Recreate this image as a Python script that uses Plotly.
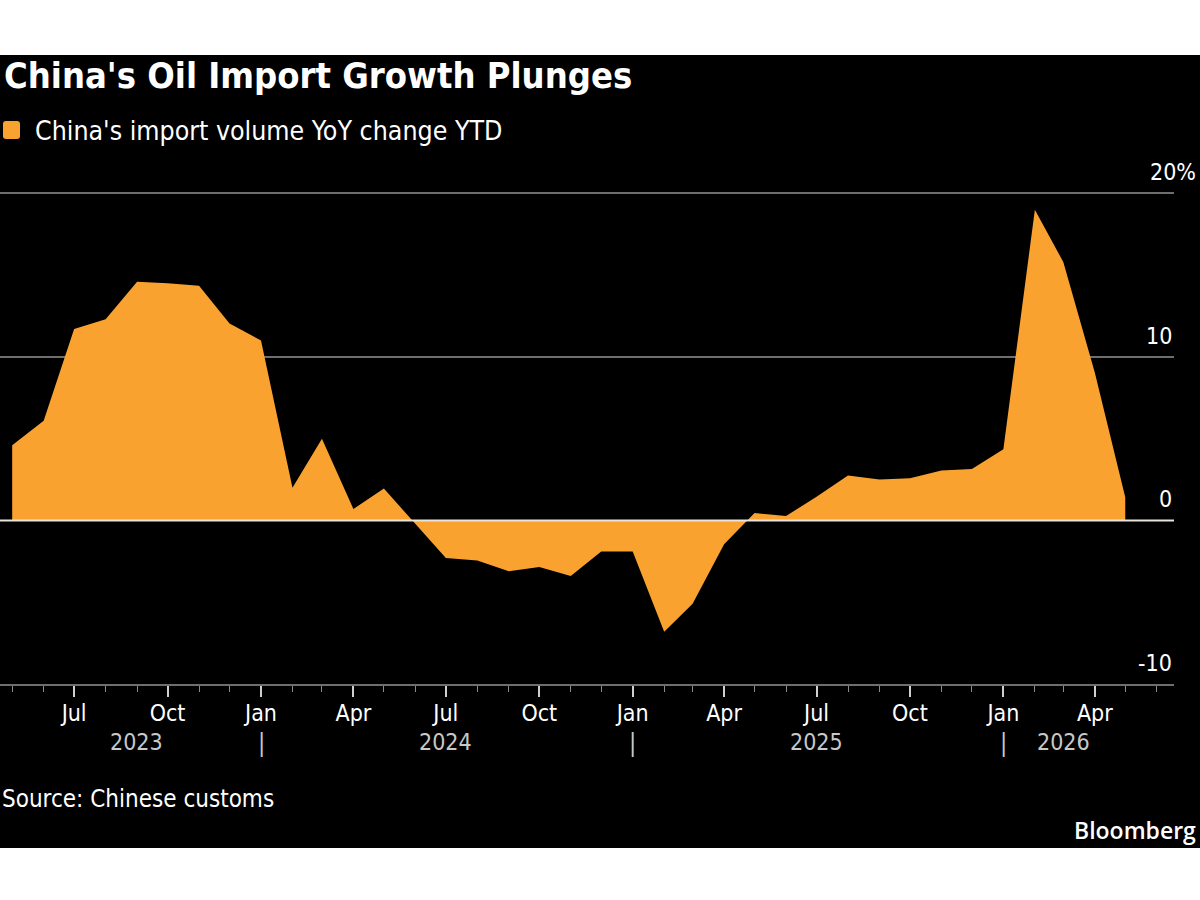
import plotly.graph_objects as go

# ---- data ----
months = [
    "2023-05-01", "2023-06-01", "2023-07-01", "2023-08-01", "2023-09-01", "2023-10-01",
    "2023-11-01", "2023-12-01", "2024-01-01", "2024-02-01", "2024-03-01", "2024-04-01",
    "2024-05-01", "2024-06-01", "2024-07-01", "2024-08-01", "2024-09-01", "2024-10-01",
    "2024-11-01", "2024-12-01", "2025-01-01", "2025-02-01", "2025-03-01", "2025-04-01",
    "2025-05-01", "2025-06-01", "2025-07-01", "2025-08-01", "2025-09-01", "2025-10-01",
    "2025-11-01", "2025-12-01", "2026-01-01", "2026-02-01", "2026-03-01", "2026-04-01",
    "2026-05-01",
]
yoy_change = [
    4.6, 6.1, 11.7, 12.3, 14.6, 14.5,
    14.35, 12.05, 11.0, 2.0, 5.0, 0.7,
    1.95, -0.2, -2.3, -2.45, -3.1, -2.85,
    -3.4, -1.9, -1.9, -6.8, -5.1, -1.45,
    0.45, 0.27, 1.45, 2.75, 2.5, 2.58,
    3.05, 3.15, 4.35, 19.0, 15.8, 9.05,
    1.42,
]
tick_dates = ["2023-07-01", "2023-10-01", "2024-01-01", "2024-04-01", "2024-07-01",
              "2024-10-01", "2025-01-01", "2025-04-01", "2025-07-01", "2025-10-01",
              "2026-01-01", "2026-04-01"]
tick_text = ["Jul", "Oct", "Jan", "Apr", "Jul", "Oct", "Jan", "Apr", "Jul", "Oct", "Jan", "Apr"]
year_labels = ["2023", "2024", "2025", "2026"]
year_label_pos = ["2023-08-31", "2024-07-01", "2025-07-01", "2026-03-01"]
year_breaks = ["2024-01-01", "2025-01-01", "2026-01-01"]
y_ticks = [20, 10, 0, -10]
y_tick_text = ["20%", "10", "0", "-10"]

TITLE = "China's Oil Import Growth Plunges"
SERIES = "China's import volume YoY change YTD"
SOURCE = "Source: Chinese customs"

ORANGE = "#FAA22F"
FONT = "Liberation Sans Narrow, DejaVu Sans Condensed, Arial Narrow, sans-serif"

W, H = 1200, 900
ML, MR, MT, MB = 0, 26, 177, 216
PW, PH = W - ML - MR, H - MT - MB


def px_x(p):
    return (p - ML) / PW


def px_y(p):
    return (H - MB - p) / PH


def rounded_rect_path(x0, y0, x1, y1, r):
    # pixel coords -> paper coords path with rounded corners
    pts = []
    X = px_x
    Y = px_y
    pts.append(f"M {X(x0 + r)} {Y(y0)}")
    pts.append(f"L {X(x1 - r)} {Y(y0)}")
    pts.append(f"Q {X(x1)} {Y(y0)} {X(x1)} {Y(y0 + r)}")
    pts.append(f"L {X(x1)} {Y(y1 - r)}")
    pts.append(f"Q {X(x1)} {Y(y1)} {X(x1 - r)} {Y(y1)}")
    pts.append(f"L {X(x0 + r)} {Y(y1)}")
    pts.append(f"Q {X(x0)} {Y(y1)} {X(x0)} {Y(y1 - r)}")
    pts.append(f"L {X(x0)} {Y(y0 + r)}")
    pts.append(f"Q {X(x0)} {Y(y0)} {X(x0 + r)} {Y(y0)} Z")
    return " ".join(pts)


fig = go.Figure()
fig.add_trace(go.Scatter(
    x=months, y=yoy_change, mode="lines", fill="tozeroy",
    fillcolor=ORANGE, line=dict(width=0, color=ORANGE), hoverinfo="skip",
    showlegend=False,
))

shapes = [
    # black panel
    dict(type="rect", xref="paper", yref="paper", x0=px_x(0), x1=px_x(W),
         y0=px_y(848), y1=px_y(55), fillcolor="black", line=dict(width=0), layer="below"),
    # zero line on top of the fill
    dict(type="line", xref="paper", yref="y", x0=0, x1=1, y0=0, y1=0,
         line=dict(color="#e8e4dc", width=2), layer="above"),
    # legend swatch
    dict(type="path", xref="paper", yref="paper",
         path=rounded_rect_path(3, 121, 20, 139, 3),
         fillcolor=ORANGE, line=dict(width=0)),
]

annotations = [
    dict(text="<b>" + TITLE + "</b>", xref="paper", yref="paper", x=px_x(2), y=px_y(75),
         xanchor="left", yanchor="middle", showarrow=False,
         font=dict(family=FONT, size=36, color="white")),
    dict(text=SERIES, xref="paper", yref="paper", x=px_x(33), y=px_y(130),
         xanchor="left", yanchor="middle", showarrow=False,
         font=dict(family=FONT, size=26.5, color="white")),
    dict(text=SOURCE, xref="paper", yref="paper", x=px_x(0), y=px_y(799),
         xanchor="left", yanchor="middle", showarrow=False,
         font=dict(family=FONT, size=24, color="white")),
    dict(text="Bloomberg", xref="paper", yref="paper", x=px_x(1198), y=px_y(830),
         xanchor="right", yanchor="middle", showarrow=False,
         font=dict(family="Open Sans, Lato, sans-serif", size=23, color="white", weight=600)),
]
for v, t in zip(y_ticks, y_tick_text):
    annotations.append(dict(
        text=t, xref="paper", yref="y", x=1, y=v, xanchor="right", yanchor="middle",
        xshift=(24 if t.endswith("%") else 0), yshift=21, showarrow=False,
        font=dict(family=FONT, size=23, color="white")))
for d, t in zip(year_label_pos, year_labels):
    annotations.append(dict(
        text=t, xref="x", yref="paper", x=d, y=px_y(742), xanchor="center", yanchor="middle",
        showarrow=False, font=dict(family=FONT, size=23, color="#c8c8c8")))
for d in year_breaks:
    annotations.append(dict(
        text="|", xref="x", yref="paper", x=d, y=px_y(743), xanchor="center", yanchor="middle",
        showarrow=False, font=dict(family=FONT, size=24, color="#c8c8c8")))

fig.update_layout(
    width=W, height=H,
    margin=dict(l=ML, r=MR, t=MT, b=MB, autoexpand=False),
    paper_bgcolor="white",
    plot_bgcolor="rgba(0,0,0,0)",
    showlegend=False,
    shapes=shapes,
    annotations=annotations,
    xaxis=dict(
        type="date",
        range=["2023-04-19", "2026-06-18"],
        tickvals=tick_dates, ticktext=tick_text,
        ticks="outside", ticklen=11, tickwidth=1.5, tickcolor="#cfcfcf",
        ticklabelstandoff=-4,
        minor=dict(ticks="outside", ticklen=6, tickwidth=1.2, tickcolor="#8a8a8a",
                   dtick="M1", tick0="2023-01-01", showgrid=False),
        showgrid=False, zeroline=False,
        showline=True, linecolor="#6e6e6e", linewidth=2,
        tickfont=dict(family=FONT, size=23, color="white"),
        fixedrange=True,
    ),
    yaxis=dict(
        range=[-10, 21],
        tickvals=[10, 20], showticklabels=False,
        showgrid=True, gridcolor="#6e6e6e", gridwidth=1.5,
        zeroline=False, showline=False, ticks="",
        fixedrange=True,
    ),
)

fig.write_html("out.html")
